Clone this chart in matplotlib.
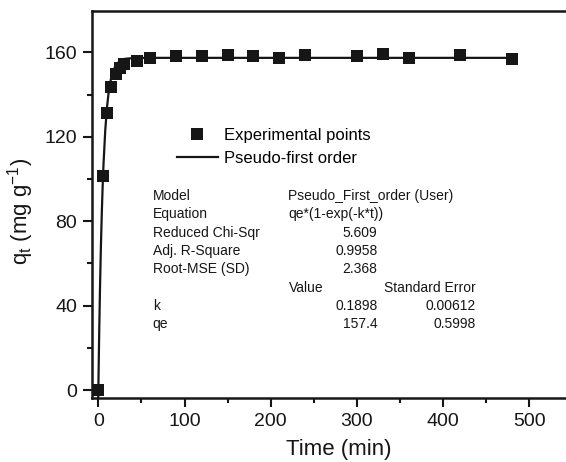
import numpy as np
import matplotlib
matplotlib.use('Agg')
import matplotlib.pyplot as plt
from matplotlib.ticker import MultipleLocator

# experimental points
time_min = [0, 5, 10, 15, 20, 25, 30, 45, 60, 90, 120, 150, 180, 210, 240,
            300, 330, 360, 420, 480]
qt_exp = [0, 101.4, 131.4, 143.5, 149.6, 152.8, 154.3, 156.1, 157.3, 158.4,
          158.3, 158.8, 158.3, 157.2, 158.8, 158.1, 159.1, 157.2, 158.8, 157.0]

# pseudo-first order curve
time_fit = [-0.5, 0, 1, 2, 3, 4, 5, 6, 8, 10, 12, 15, 20, 25, 30, 40, 60,
            100, 200, 300, 400, 480]
qt_fit = [-15, 0, 27.2, 49.7, 68.4, 83.7, 96.5, 107.0, 122.9, 133.8, 141.3,
          148.3, 153.9, 156.0, 156.9, 157.3, 157.4, 157.4, 157.4, 157.4,
          157.4, 157.4]

# fit report
report_labels = ["Model", "Equation", "Reduced Chi-Sqr", "Adj. R-Square",
                 "Root-MSE (SD)"]
report_values = ["Pseudo_First_order (User)", "qe*(1-exp(-k*t))", "5.609",
                 "0.9958", "2.368"]
param_names = ["k", "qe"]
param_values = ["0.1898", "157.4"]
param_errors = ["0.00612", "0.5998"]

plt.rcParams['font.family'] = ['Liberation Sans', 'DejaVu Sans']
plt.rcParams['mathtext.fontset'] = 'custom'
plt.rcParams['mathtext.rm'] = 'Liberation Sans'
plt.rcParams['mathtext.it'] = 'Liberation Sans:italic'

W, H = 566, 462
ink = '#161616'


def px(x, y):
    # pixel position -> figure fraction
    return x / W, 1 - y / H


fig = plt.figure(figsize=(W / 100, H / 100), dpi=100)
ax_left, ax_right, ax_top, ax_bottom = 91.7, 572.4, 11, 398.3
ax = fig.add_axes([ax_left / W, (H - ax_bottom) / H,
                   (ax_right - ax_left) / W, (ax_bottom - ax_top) / H])

ax.plot(time_fit, qt_fit, '-', color=ink, lw=1.6, label='Pseudo-first order',
        zorder=2)
ax.plot(time_min, qt_exp, 's', color=ink, ms=8, mew=0,
        label='Experimental points', zorder=3, clip_on=False)

ax.set_xlim(-7.7, 550)
ax.set_ylim(-3.9, 179.6)
ax.xaxis.set_major_locator(MultipleLocator(100))
ax.xaxis.set_minor_locator(MultipleLocator(50))
ax.yaxis.set_major_locator(MultipleLocator(40))
ax.yaxis.set_minor_locator(MultipleLocator(20))
ax.tick_params(which='major', direction='out', length=6.5, width=1.5,
               labelsize=14, color=ink, labelcolor=ink, pad=4)
ax.tick_params(which='minor', direction='out', length=3.8, width=1.5, color=ink)
ax.tick_params(top=False, right=False, which='both')
for side in ['left', 'bottom', 'top']:
    ax.spines[side].set_linewidth(1.8)
    ax.spines[side].set_color(ink)
ax.spines['right'].set_visible(False)

ax.set_xlabel('Time (min)', fontsize=16, color=ink)
ax.xaxis.set_label_coords((338.4 - ax_left) / (ax_right - ax_left),
                          (ax_bottom - 438.5) / (ax_bottom - ax_top))
ax.set_ylabel(r'q$_\mathrm{t}$ (mg g$^{-1}$)', fontsize=16, color=ink)
ax.yaxis.set_label_coords((36 - ax_left) / (ax_right - ax_left),
                          (ax_bottom - 211.7) / (ax_bottom - ax_top))

# legend
handles, labels = ax.get_legend_handles_labels()
ax.legend(handles[::-1], labels[::-1], loc='upper left',
          bbox_to_anchor=px(177, 128), bbox_transform=fig.transFigure,
          frameon=False, fontsize=12, borderpad=0, borderaxespad=0,
          handlelength=2.45, handletextpad=0.38, labelspacing=0.5,
          markerscale=1.0)

# fit report text
fs = 10
baselines = [200, 218.3, 236.6, 254.9, 273.2]
for i, (lab, val) in enumerate(zip(report_labels, report_values)):
    fig.text(*px(152.7, baselines[i]), lab, fontsize=fs, va='baseline',
             ha='left', color=ink)
    if i < 2:
        fig.text(*px(288, baselines[i]), val, fontsize=fs, va='baseline',
                 ha='left', color=ink)
    else:
        fig.text(*px(377.3, baselines[i]), val, fontsize=fs, va='baseline',
                 ha='right', color=ink)

fig.text(*px(289, 291.5), 'Value', fontsize=fs, va='baseline', ha='left',
         color=ink)
fig.text(*px(476, 291.5), 'Standard Error', fontsize=fs, va='baseline',
         ha='right', color=ink)
for i, (name, v, e) in enumerate(zip(param_names, param_values, param_errors)):
    yb = 309.8 + i * 18.3
    fig.text(*px(152.7, yb), name, fontsize=fs, va='baseline', ha='left',
             color=ink)
    fig.text(*px(377.3, yb), v, fontsize=fs, va='baseline', ha='right',
             color=ink)
    fig.text(*px(476, yb), e, fontsize=fs, va='baseline', ha='right',
             color=ink)

fig.savefig('out.png', dpi=100)
